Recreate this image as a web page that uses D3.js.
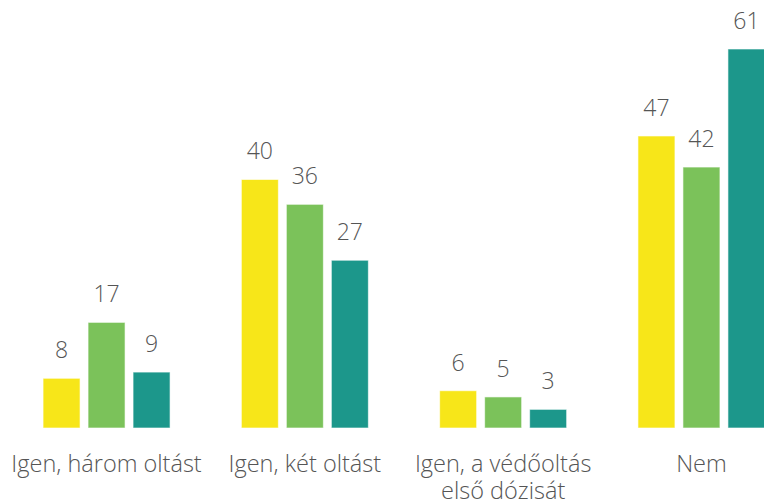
<!DOCTYPE html>
<html><head><meta charset="utf-8">
<script src="https://cdn.jsdelivr.net/npm/d3@7"></script>
<style>body{margin:0;background:#fff}svg{display:block}</style>
</head><body>
<script>
const categories = ["Igen, három oltást", "Igen, két oltást", "Igen, a védőoltás első dózisát", "Nem"];
const categoryLines = [["Igen, három oltást"], ["Igen, két oltást"], ["Igen, a védőoltás", "első dózisát"], ["Nem"]];
const seriesNames = ["s1", "s2", "s3"];
const series1 = [8, 40, 6, 47];
const series2 = [17, 36, 5, 42];
const series3 = [9, 27, 3, 61];
const colors = ["#f7e619", "#7bc25a", "#1c978b"];

const W = 764, H = 504;
const svg = d3.select("body").append("svg").attr("width", W).attr("height", H);
const x0 = d3.scaleBand().domain(categories).range([7.4, 800.6]).paddingInner(0).paddingOuter(0);
const half = x0.bandwidth() / 2;
const x1 = d3.scaleBand().domain(seriesNames).range([half - 67.5, half + 67.5]).paddingInner(0.178).paddingOuter(0.089);
const y = d3.scaleLinear().domain([0, 61]).range([428, 49]);

const allSeries = [series1, series2, series3];
const data = [];
categories.forEach((c, i) => allSeries.forEach((s, j) => data.push({c, s: seriesNames[j], v: s[i], j})));

const g = svg.append("g");
g.selectAll("rect").data(data).join("rect")
  .attr("x", d => x0(d.c) + x1(d.s))
  .attr("y", d => y(d.v))
  .attr("width", x1.bandwidth())
  .attr("height", d => y(0) - y(d.v))
  .attr("fill", d => colors[d.j])
  .attr("stroke", "rgba(255,255,255,0.6)")
  .attr("stroke-width", 1);

g.selectAll("text.val").data(data).join("text").attr("class", "val")
  .attr("x", d => x0(d.c) + x1(d.s) + x1.bandwidth() / 2)
  .attr("y", d => y(d.v) - 20)
  .attr("text-anchor", "middle")
  .attr("font-family", "'Open Sans', sans-serif")
  .attr("font-weight", 300)
  .attr("font-size", 23)
  .attr("fill", "#555555")
  .text(d => d.v);

const cat = svg.append("g");
categories.forEach((c, i) => {
  categoryLines[i].forEach((line, k) => {
    cat.append("text")
      .attr("x", x0(c) + half)
      .attr("y", 472 + k * 26.5)
      .attr("text-anchor", "middle")
      .attr("font-family", "'Open Sans', sans-serif")
      .attr("font-weight", 300)
      .attr("font-size", 23.5)
      .attr("fill", "#555555")
      .text(line);
  });
});
</script>
</body></html>
